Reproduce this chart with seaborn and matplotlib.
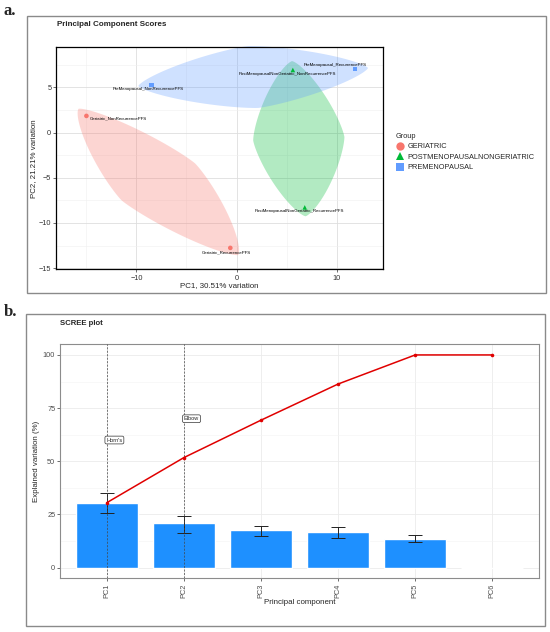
import matplotlib
matplotlib.use("Agg")
import matplotlib.pyplot as plt
from matplotlib.lines import Line2D
from matplotlib.patches import Rectangle
import numpy as np
import pandas as pd
import seaborn as sns

# datos de los scores (PC1, PC2) por muestra
muestras = ['Geriatric_NonRecurrencePFS', 'Geriatric_RecurrencePFS',
            'PostMenopausalNonGeriatric_NonRecurrencePFS', 'PostMenopausalNonGeriatric_RecurrencePFS',
            'PreMenopausal_NonRecurrencePFS', 'PreMenopausal_RecurrencePFS']
grupos = ['GERIATRIC', 'GERIATRIC',
          'POSTMENOPAUSALNONGERIATRIC', 'POSTMENOPAUSALNONGERIATRIC',
          'PREMENOPAUSAL', 'PREMENOPAUSAL']
pc1 = [-15.0, -0.62, 5.63, 6.82, -8.51, 11.84]
pc2 = [1.84, -12.76, 6.92, -8.28, 5.26, 7.03]

# datos del scree plot
componentes = ['PC1', 'PC2', 'PC3', 'PC4', 'PC5', 'PC6']
varianza = [30.51, 21.21, 17.6, 17.0, 13.68, 0.0]
error_bajo = [25.6, 16.2, 14.8, 14.1, 12.0]
error_alto = [35.0, 24.5, 19.6, 19.2, 15.3]
horn_pc = 'PC1'
elbow_pc = 'PC2'

orden_grupos = ['GERIATRIC', 'POSTMENOPAUSALNONGERIATRIC', 'PREMENOPAUSAL']
colores = {'GERIATRIC': '#F8766D', 'POSTMENOPAUSALNONGERIATRIC': '#00BA38', 'PREMENOPAUSAL': '#619CFF'}
marcadores = {'GERIATRIC': 'o', 'POSTMENOPAUSALNONGERIATRIC': '^', 'PREMENOPAUSAL': 's'}
# desplazamiento de etiquetas (px, y hacia abajo) y alineacion
desp_etiquetas = [(3, 2, 'left'), (-4, 4, 'center'), (-5, 4, 'center'),
                  (-5, 4, 'center'), (-3, 4, 'center'), (-20, -4, 'center')]

sns.set_style('white')
plt.rcParams['font.family'] = ['Liberation Sans', 'DejaVu Sans']

W, H = 550, 632
fig = plt.figure(figsize=(W / 100, H / 100), dpi=100)


def ejes(x0, x1, y0, y1):
    return fig.add_axes([x0 / W, 1 - y1 / H, (x1 - x0) / W, (y1 - y0) / H])


def marco(x0, x1, y0, y1):
    fig.patches.append(Rectangle((x0 / W, 1 - y1 / H), (x1 - x0) / W, (y1 - y0) / H,
                                 transform=fig.transFigure, fill=False,
                                 edgecolor='#8a8a8a', linewidth=1.0))


# envolvente tipo "encircle" para cada grupo (en coordenadas del eje)
def envolvente(ax, xs, ys, ancho=0.14, extra=0.04, q=1.35, n=240):
    pts = ax.transLimits.transform(np.column_stack([xs, ys]))
    a, b = pts[0], pts[1]
    c = (a + b) / 2
    d = b - a
    L = np.hypot(*d)
    u = d / L
    v = np.array([-u[1], u[0]])
    t = np.linspace(0, 2 * np.pi, n)
    cu = np.sign(np.cos(t)) * np.abs(np.cos(t)) ** (2 / q)
    cv = np.sign(np.sin(t)) * np.abs(np.sin(t)) ** (2 / q)
    borde = c + np.outer(cu * (L / 2 + extra), u) + np.outer(cv * ancho, v)
    return borde


# ---------------- panel a ----------------
marco(26.5, 546, 16, 293.5)
ax1 = ejes(56.4, 382.6, 47.3, 269.5)
df = pd.DataFrame({'PC1': pc1, 'PC2': pc2, 'Group': grupos, 'muestra': muestras})
ax1.set_xlim(-18.0, 14.6)
ax1.set_ylim(-15.15, 9.43)

for g in orden_grupos:
    sub = df[df['Group'] == g]
    borde = envolvente(ax1, sub['PC1'].values, sub['PC2'].values)
    ax1.fill(borde[:, 0], borde[:, 1], color=colores[g], alpha=0.3, linewidth=0,
             transform=ax1.transAxes, clip_on=False, zorder=1)

sns.scatterplot(data=df, x='PC1', y='PC2', hue='Group', style='Group',
                hue_order=orden_grupos, style_order=orden_grupos,
                palette=colores, markers=marcadores, s=11, linewidth=0,
                legend=False, ax=ax1, zorder=3)

for (x, y, m), (dx, dy, ha) in zip(zip(pc1, pc2, muestras), desp_etiquetas):
    ax1.annotate(m, (x, y), xytext=(dx * 0.72, -dy * 0.72), textcoords='offset points',
                 ha=ha, va='center', fontsize=3.2, color='black', zorder=4)

ax1.set_xticks([-10, 0, 10])
ax1.set_yticks([-15, -10, -5, 0, 5])
ax1.set_xticks([-15, -5, 5], minor=True)
ax1.set_yticks([-12.5, -7.5, -2.5, 2.5, 7.5], minor=True)
ax1.grid(True, which='major', color='#dedede', linewidth=0.6)
ax1.grid(True, which='minor', color='#efefef', linewidth=0.4)
ax1.set_axisbelow(True)
for s in ax1.spines.values():
    s.set_color('black')
    s.set_linewidth(0.9)
ax1.tick_params(which='major', length=2.2, width=0.5, color='#333333', labelsize=5.3,
                labelcolor='#333333', pad=1.5, left=True, bottom=True)
ax1.tick_params(which='minor', length=0)
ax1.set_xlabel('PC1, 30.51% variation', fontsize=5.7, labelpad=0.5)
ax1.set_ylabel('PC2, 21.21% variation', fontsize=5.7, labelpad=1.5)
fig.text(56.8 / W, 1 - 24.5 / H, 'Principal Component Scores', fontsize=5.8,
         fontweight='bold', va='center', ha='left')

manejadores = [Line2D([], [], linestyle='none', marker=marcadores[g], color=colores[g],
                      markersize=6 if g != 'PREMENOPAUSAL' else 5.5, markeredgewidth=0)
               for g in orden_grupos]
leg = fig.legend(manejadores, orden_grupos, title='Group', loc='upper left',
                 bbox_to_anchor=(393 / W, 1 - 130 / H), frameon=False,
                 fontsize=5.3, title_fontsize=5.3, handletextpad=0.4,
                 labelspacing=0.45, handlelength=1.2, borderaxespad=0)
leg._legend_box.align = 'left'

# ---------------- panel b ----------------
marco(25.6, 545, 314, 626)
ax2 = ejes(60.4, 538.6, 344.3, 578.3)
pos = np.arange(len(componentes))
sns.barplot(x=componentes, y=varianza, color='#1E90FF', saturation=1, width=0.8,
            errorbar=None, ax=ax2, zorder=2)
centro = [(lo + hi) / 2 for lo, hi in zip(error_bajo, error_alto)]
semi = [(hi - lo) / 2 for lo, hi in zip(error_bajo, error_alto)]
ax2.errorbar(pos[:len(centro)], centro, yerr=semi, fmt='none', ecolor='#222222',
             elinewidth=0.7, capsize=4.8, capthick=0.7, zorder=3)
acumulada = np.cumsum(varianza)
sns.lineplot(x=pos, y=acumulada, color='#E00000', linewidth=1.1, marker='o',
             markersize=2.6, markeredgewidth=0, ax=ax2, zorder=4)

for pc, etiqueta, yv in [(horn_pc, "Horn's", 60), (elbow_pc, 'Elbow', 70)]:
    i = componentes.index(pc)
    ax2.axvline(i, color='#444444', linestyle=(0, (3, 2)), linewidth=0.5, zorder=3)
    ax2.text(i + 0.1, yv, etiqueta, fontsize=4, ha='center', va='center', zorder=5,
             bbox=dict(boxstyle='round,pad=0.25,rounding_size=0.3', facecolor='white',
                       edgecolor='#333333', linewidth=0.5))

ax2.set_xlim(-0.6, len(componentes) - 0.4)
ax2.set_ylim(-5, 105)
ax2.set_yticks([0, 25, 50, 75, 100])
ax2.set_yticks([12.5, 37.5, 62.5, 87.5], minor=True)
ax2.grid(True, which='major', color='#ebebeb', linewidth=0.6)
ax2.grid(True, which='minor', axis='y', color='#f4f4f4', linewidth=0.4)
ax2.set_axisbelow(True)
for s in ax2.spines.values():
    s.set_color('#8c8c8c')
    s.set_linewidth(0.8)
ax2.tick_params(which='major', length=2.2, width=0.5, color='#333333', labelsize=5.3,
                labelcolor='#4d4d4d', pad=1.5, left=True, bottom=True)
ax2.tick_params(which='minor', length=0)
ax2.tick_params(axis='x', labelrotation=90)
ax2.set_xlabel('Principal component', fontsize=5.7, labelpad=1)
ax2.set_ylabel('Explained variation (%)', fontsize=5.7, labelpad=2)
fig.text(60.4 / W, 1 - 323.3 / H, 'SCREE plot', fontsize=5.6, fontweight='bold',
         va='center', ha='left')

# letras de panel
fig.text(4 / W, 1 - 11 / H, 'a.', fontsize=12, fontweight='bold',
         family='Liberation Serif', va='center', ha='left')
fig.text(3.5 / W, 1 - 311.5 / H, 'b.', fontsize=12, fontweight='bold',
         family='Liberation Serif', va='center', ha='left')

fig.savefig('out.png', dpi=100)
